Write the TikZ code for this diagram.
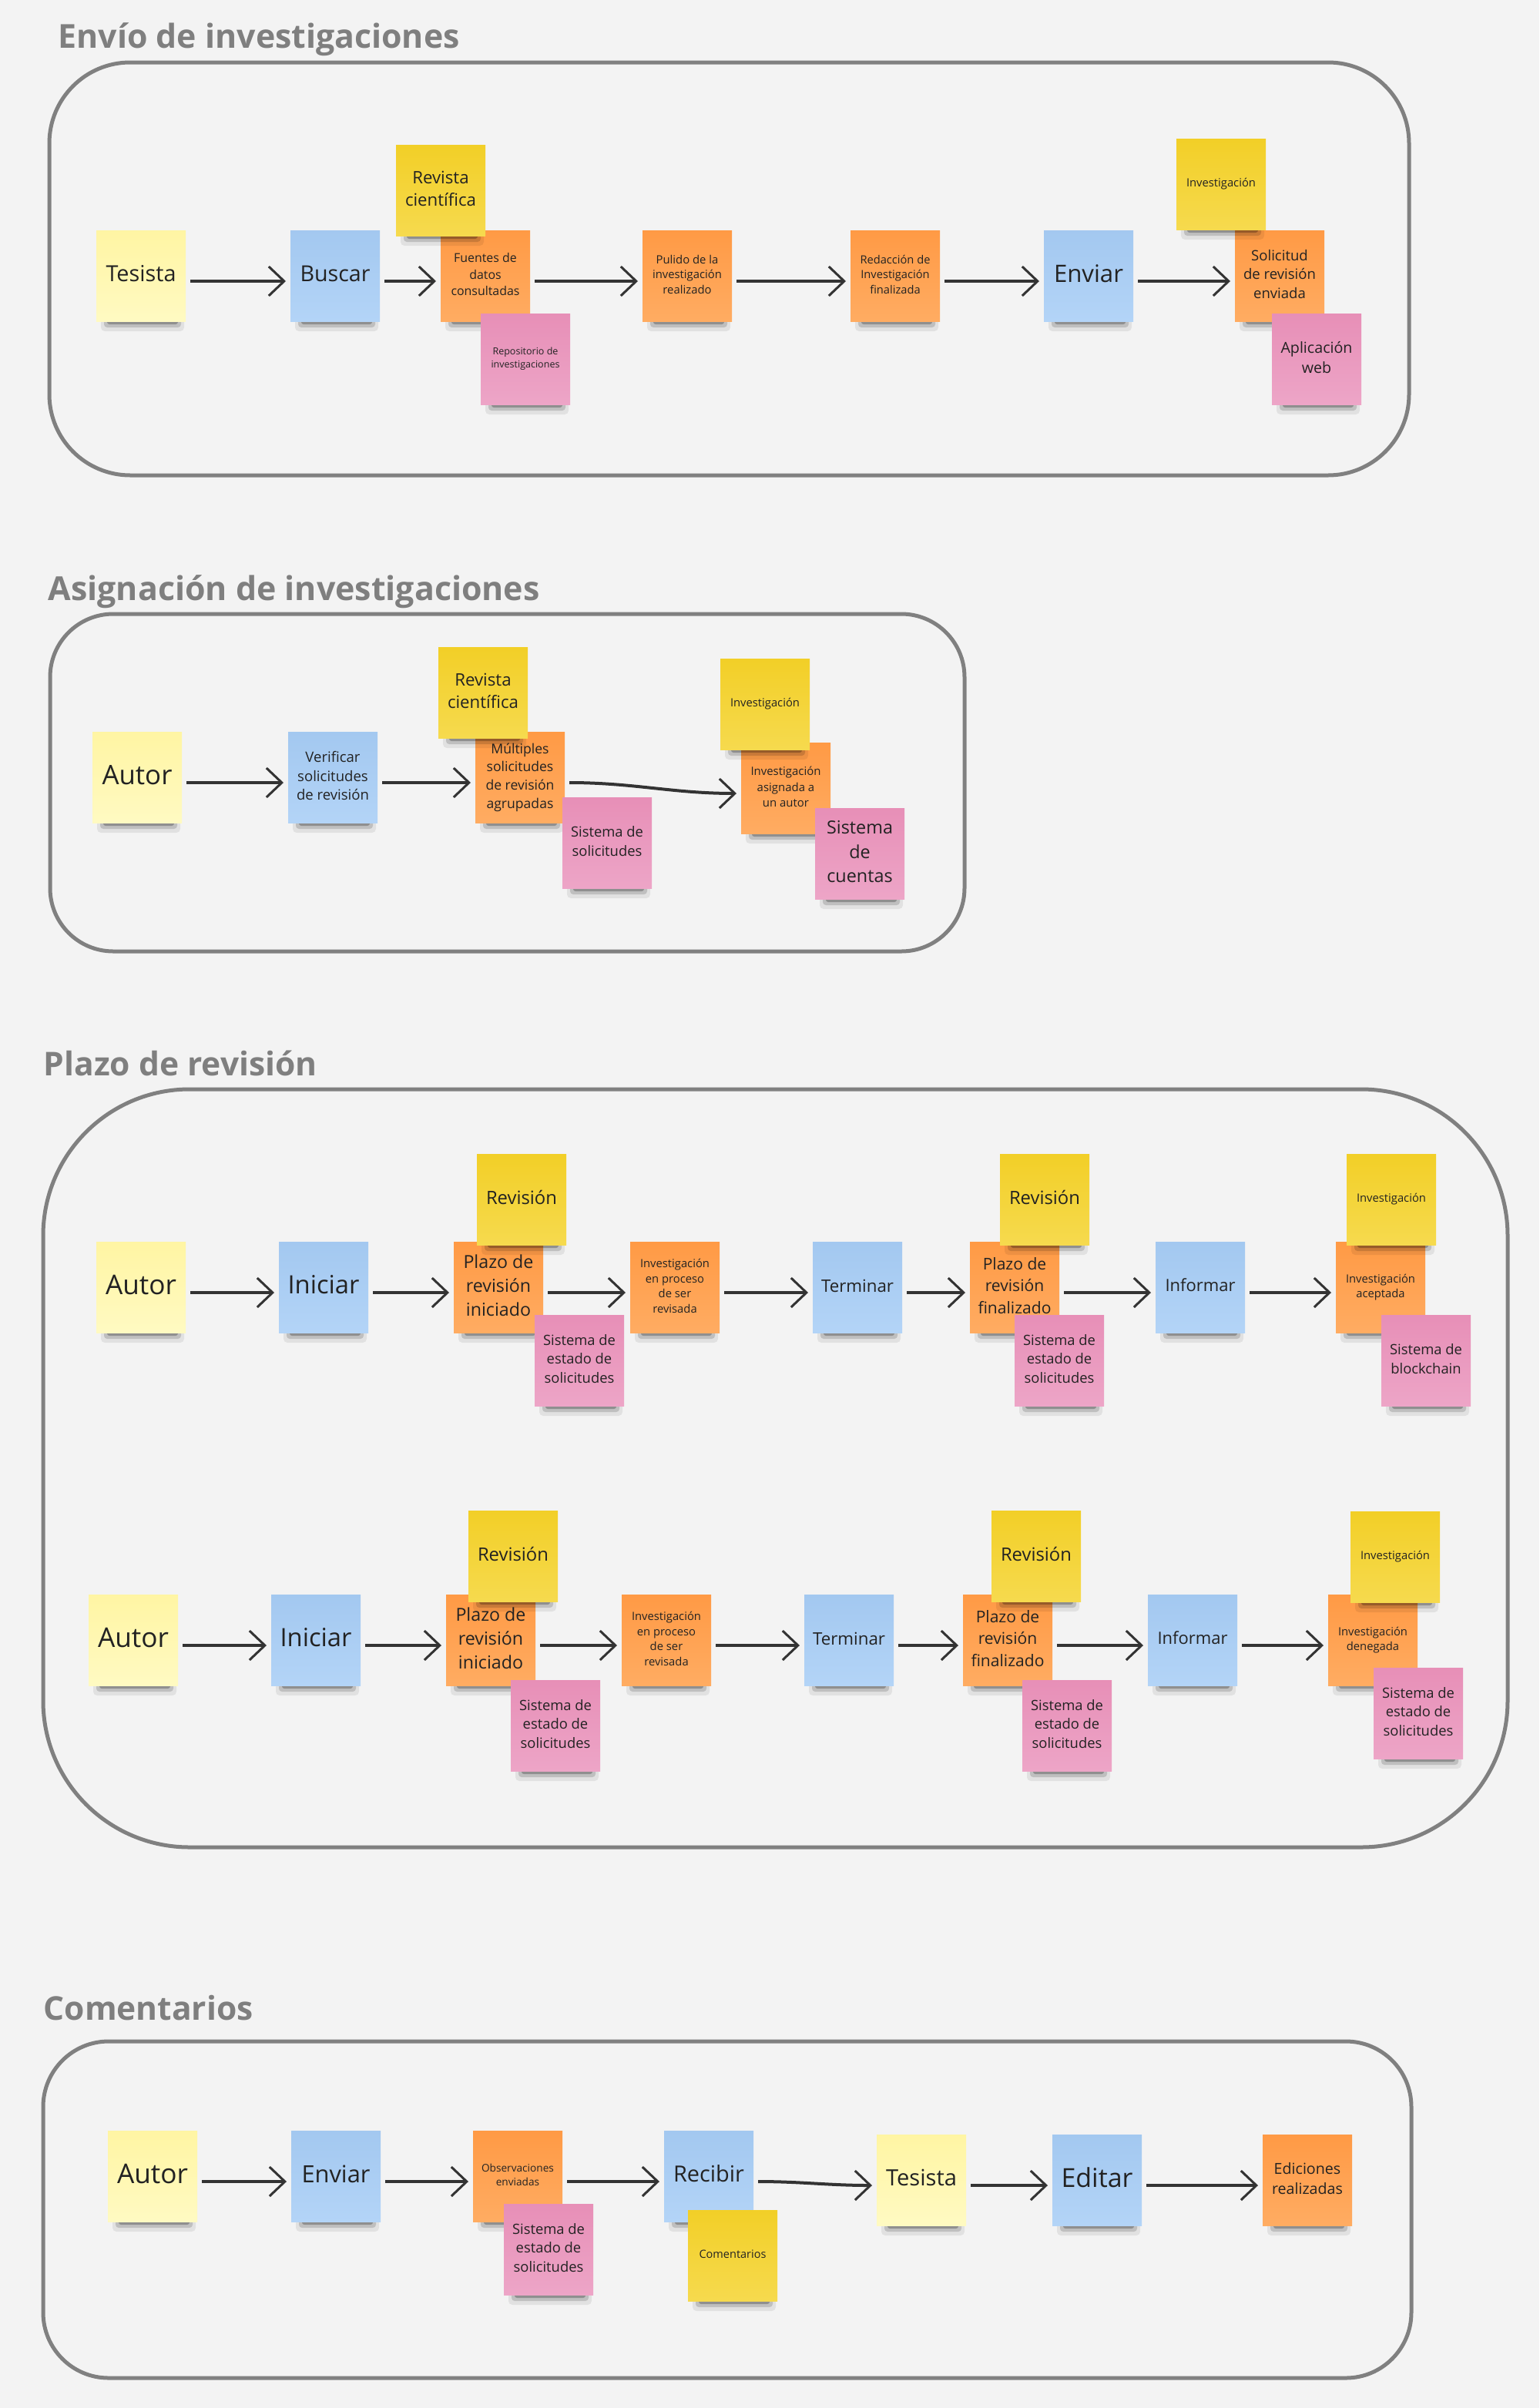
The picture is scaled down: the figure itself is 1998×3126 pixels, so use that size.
\documentclass[tikz,border=0pt]{standalone}
\usepackage{fontspec}
\setmainfont{Open Sans}
\usepackage{graphicx}
\usetikzlibrary{arrows.meta}
\definecolor{bgc}{HTML}{F3F3F3}
\definecolor{frm}{HTML}{808080}
\definecolor{ttlc}{HTML}{7F7F7F}
\definecolor{arr}{HTML}{333333}
\definecolor{txt}{HTML}{222222}
\definecolor{pyT}{HTML}{FFF5A3}
\definecolor{pyB}{HTML}{FFFAC2}
\definecolor{blT}{HTML}{A3C8F0}
\definecolor{blB}{HTML}{B3D4F7}
\definecolor{orT}{HTML}{FF9A45}
\definecolor{orB}{HTML}{FFAC62}
\definecolor{yeT}{HTML}{F2CF27}
\definecolor{yeB}{HTML}{F6DA4E}
\definecolor{pkT}{HTML}{E78FB7}
\definecolor{pkB}{HTML}{EDA5C7}
\renewcommand\arraystretch{1.12}
\newcommand\fitt[2]{\resizebox{#1mm}{!}{\begin{tabular}{@{}c@{}}#2\end{tabular}}}
% name, x, y, colour prefix, text width (mm), text
\newcommand\snote[6]{%
  \fill[black,opacity=0.07,rounded corners=0.5mm] (#2-52,#3+55) rectangle (#2+56,#3+72);
  \fill[black,opacity=0.15,rounded corners=0.4mm] (#2-48,#3+56) rectangle (#2+52,#3+67);
  \fill[black,opacity=0.25,rounded corners=0.3mm] (#2-44,#3+57) rectangle (#2+48,#3+63);
  \node[notebox, top color=#4T, bottom color=#4B] (#1) at (#2,#3) {\fitt{#5}{#6}};
}
\begin{document}
\begin{tikzpicture}[x=0.1mm,y=-0.1mm,
  notebox/.style={minimum width=11.6mm, minimum height=11.8mm, inner sep=0pt, outer sep=0pt, text=txt},
  flow/.style={draw=arr, line width=0.4mm, -{Straight Barb[length=2mm,width=3.8mm,line width=0.3mm]}, shorten >=0.6mm, shorten <=0.6mm},
  frame/.style={draw=frm, line width=0.5mm, rounded corners=#1},
  ttl/.style={anchor=base west, text=ttlc, font=\bfseries, inner sep=0pt}]
\fill[bgc] (0,0) rectangle (1998,3126);
\useasboundingbox (0,0) rectangle (1998,3126);

% ---------- Section 1 ----------
\node[ttl] (t1) at (75,62) {\resizebox{52.1mm}{!}{Envío de investigaciones}};
\draw[frame=10.5mm] (64,81) rectangle (1829,617);
\snote{s1a}{183}{358}{py}{9.1}{Tesista}
\snote{s1b}{435}{358}{bl}{9.1}{Buscar}
\snote{s1c}{630}{358}{or}{8.9}{Fuentes de\\datos\\consultadas}
\snote{s1d}{572}{247}{ye}{9.2}{Revista\\científica}
\snote{s1e}{682}{466}{pk}{8.9}{Repositorio de\\investigaciones}
\snote{s1f}{892}{358}{or}{9.0}{Pulido de la\\investigación\\realizado}
\snote{s1g}{1162}{358}{or}{9.1}{Redacción de\\Investigación\\finalizada}
\snote{s1h}{1413}{358}{bl}{9.0}{Enviar}
\snote{s1i}{1661}{358}{or}{9.4}{Solicitud\\de revisión\\enviada}
\snote{s1j}{1585}{239}{ye}{9.0}{Investigación}
\snote{s1k}{1709}{466}{pk}{9.3}{Aplicación\\web}
\draw[flow] ([yshift=-0.7mm]s1a.east) -- ([yshift=-0.7mm]s1b.west);
\draw[flow] ([yshift=-0.7mm]s1b.east) -- ([yshift=-0.7mm]s1c.west);
\draw[flow] ([yshift=-0.7mm]s1c.east) -- ([yshift=-0.7mm]s1f.west);
\draw[flow] ([yshift=-0.7mm]s1f.east) -- ([yshift=-0.7mm]s1g.west);
\draw[flow] ([yshift=-0.7mm]s1g.east) -- ([yshift=-0.7mm]s1h.west);
\draw[flow] ([yshift=-0.7mm]s1h.east) -- ([yshift=-0.7mm]s1i.west);

% ---------- Section 2 ----------
\node[ttl] (t2) at (62,779) {\resizebox{63.8mm}{!}{Asignación de investigaciones}};
\draw[frame=8.2mm] (65,797) rectangle (1252,1235);
\snote{s2a}{178}{1009}{py}{9.1}{Autor}
\snote{s2b}{432}{1009}{bl}{9.4}{Verificar\\solicitudes\\de revisión}
\snote{s2c}{675}{1009}{or}{8.9}{Múltiples\\solicitudes\\de revisión\\agrupadas}
\snote{s2d}{627}{899}{ye}{9.2}{Revista\\científica}
\snote{s2e}{788}{1094}{pk}{9.4}{Sistema de\\solicitudes}
\snote{s2f}{1020}{1023}{or}{9.1}{Investigación\\asignada a\\un autor}
\snote{s2g}{993}{914}{ye}{9.0}{Investigación}
\snote{s2h}{1116}{1108}{pk}{8.6}{Sistema\\de\\cuentas}
\draw[flow] ([yshift=-0.7mm]s2a.east) -- ([yshift=-0.7mm]s2b.west);
\draw[flow] ([yshift=-0.7mm]s2b.east) -- ([yshift=-0.7mm]s2c.west);
\draw[flow] ([yshift=-0.7mm]s2c.east) to[out=0,in=180] ([yshift=-0.7mm]s2f.west);

% ---------- Section 3 ----------
\node[ttl] (t3) at (56,1396) {\resizebox{35.5mm}{!}{Plazo de revisión}};
\draw[frame=19mm] (56,1414) rectangle (1957,2398);
% row 1
\snote{r1a}{183}{1671}{py}{9.2}{Autor}
\snote{r1b}{420}{1671}{bl}{9.3}{Iniciar}
\snote{r1c}{647}{1671}{or}{9.1}{Plazo de\\revisión\\iniciado}
\snote{r1d}{677}{1557}{ye}{9.2}{Revisión}
\snote{r1e}{752}{1766}{pk}{9.4}{Sistema de\\estado de\\solicitudes}
\snote{r1f}{876}{1671}{or}{9.0}{Investigación\\en proceso\\de ser\\revisada}
\snote{r1g}{1113}{1671}{bl}{9.4}{Terminar}
\snote{r1h}{1317}{1671}{or}{9.5}{Plazo de\\revisión\\finalizado}
\snote{r1i}{1356}{1557}{ye}{9.2}{Revisión}
\snote{r1j}{1375}{1766}{pk}{9.4}{Sistema de\\estado de\\solicitudes}
\snote{r1k}{1558}{1671}{bl}{9.1}{Informar}
\snote{r1l}{1792}{1671}{or}{9.0}{Investigación\\aceptada}
\snote{r1m}{1806}{1557}{ye}{9.0}{Investigación}
\snote{r1n}{1851}{1766}{pk}{9.4}{Sistema de\\blockchain}
\draw[flow] ([yshift=-0.7mm]r1a.east) -- ([yshift=-0.7mm]r1b.west);
\draw[flow] ([yshift=-0.7mm]r1b.east) -- ([yshift=-0.7mm]r1c.west);
\draw[flow] ([yshift=-0.7mm]r1c.east) -- ([yshift=-0.7mm]r1f.west);
\draw[flow] ([yshift=-0.7mm]r1f.east) -- ([yshift=-0.7mm]r1g.west);
\draw[flow] ([yshift=-0.7mm]r1g.east) -- ([yshift=-0.7mm]r1h.west);
\draw[flow] ([yshift=-0.7mm]r1h.east) -- ([yshift=-0.7mm]r1k.west);
\draw[flow] ([yshift=-0.7mm]r1k.east) -- ([yshift=-0.7mm]r1l.west);
% row 2
\snote{r2a}{173}{2129}{py}{9.2}{Autor}
\snote{r2b}{410}{2129}{bl}{9.3}{Iniciar}
\snote{r2c}{637}{2129}{or}{9.1}{Plazo de\\revisión\\iniciado}
\snote{r2d}{666}{2020}{ye}{9.2}{Revisión}
\snote{r2e}{721}{2240}{pk}{9.4}{Sistema de\\estado de\\solicitudes}
\snote{r2f}{865}{2129}{or}{9.0}{Investigación\\en proceso\\de ser\\revisada}
\snote{r2g}{1102}{2129}{bl}{9.4}{Terminar}
\snote{r2h}{1308}{2129}{or}{9.5}{Plazo de\\revisión\\finalizado}
\snote{r2i}{1345}{2020}{ye}{9.2}{Revisión}
\snote{r2j}{1385}{2240}{pk}{9.4}{Sistema de\\estado de\\solicitudes}
\snote{r2k}{1548}{2129}{bl}{9.1}{Informar}
\snote{r2l}{1782}{2129}{or}{9.0}{Investigación\\denegada}
\snote{r2m}{1811}{2021}{ye}{9.0}{Investigación}
\snote{r2n}{1841}{2224}{pk}{9.4}{Sistema de\\estado de\\solicitudes}
\draw[flow] ([yshift=-0.7mm]r2a.east) -- ([yshift=-0.7mm]r2b.west);
\draw[flow] ([yshift=-0.7mm]r2b.east) -- ([yshift=-0.7mm]r2c.west);
\draw[flow] ([yshift=-0.7mm]r2c.east) -- ([yshift=-0.7mm]r2f.west);
\draw[flow] ([yshift=-0.7mm]r2f.east) -- ([yshift=-0.7mm]r2g.west);
\draw[flow] ([yshift=-0.7mm]r2g.east) -- ([yshift=-0.7mm]r2h.west);
\draw[flow] ([yshift=-0.7mm]r2h.east) -- ([yshift=-0.7mm]r2k.west);
\draw[flow] ([yshift=-0.7mm]r2k.east) -- ([yshift=-0.7mm]r2l.west);

% ---------- Section 4 ----------
\node[ttl] (t4) at (56,2622) {\resizebox{27.2mm}{!}{Comentarios}};
\draw[frame=8.5mm] (56,2650) rectangle (1832,3087);
\snote{c1}{198}{2825}{py}{9.2}{Autor}
\snote{c2}{436}{2825}{bl}{8.9}{Enviar}
\snote{c3}{672}{2825}{or}{9.4}{Observaciones\\enviadas}
\snote{c4}{712}{2920}{pk}{9.4}{Sistema de\\estado de\\solicitudes}
\snote{c5}{920}{2825}{bl}{9.2}{Recibir}
\snote{c6}{951}{2928}{ye}{8.7}{Comentarios}
\snote{c7}{1196}{2830}{py}{9.2}{Tesista}
\snote{c8}{1424}{2830}{bl}{9.3}{Editar}
\snote{c9}{1697}{2830}{or}{9.2}{Ediciones\\realizadas}
\draw[flow] ([yshift=-0.7mm]c1.east) -- ([yshift=-0.7mm]c2.west);
\draw[flow] ([yshift=-0.7mm]c2.east) -- ([yshift=-0.7mm]c3.west);
\draw[flow] ([yshift=-0.7mm]c3.east) -- ([yshift=-0.7mm]c5.west);
\draw[flow] ([yshift=-0.7mm]c5.east) to[out=0,in=180] ([yshift=-0.7mm]c7.west);
\draw[flow] ([yshift=-0.7mm]c7.east) -- ([yshift=-0.7mm]c8.west);
\draw[flow] ([yshift=-0.7mm]c8.east) -- ([yshift=-0.7mm]c9.west);
\end{tikzpicture}
\end{document}
